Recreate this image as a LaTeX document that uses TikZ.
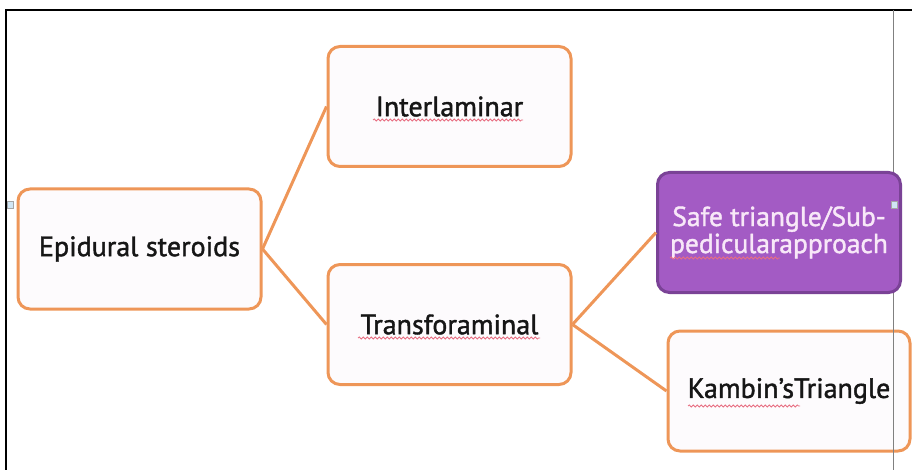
\documentclass[tikz,border=0pt]{standalone}
\usepackage{fontspec}
\setmainfont{PT Sans}
\newfontfamily\boxfont[FakeBold=1.4,Ligatures=TeX]{PT Sans}
\usetikzlibrary{decorations.pathmorphing}

\definecolor{boxorange}{RGB}{238,150,88}
\definecolor{boxfill}{RGB}{253,251,253}
\definecolor{boxpurple}{RGB}{163,91,196}
\definecolor{purpleedge}{RGB}{122,66,150}
\definecolor{textdark}{RGB}{22,22,22}
\definecolor{purpletext}{RGB}{248,232,248}
\definecolor{squiggle}{RGB}{232,110,130}
\definecolor{handleblue}{RGB}{208,230,245}

\tikzstyle{topic}=[draw=boxorange,fill=boxfill,line width=3pt,rounded corners=12pt,minimum width=243pt,minimum height=120pt,inner sep=0pt,text=textdark,font=\boxfont\fontsize{28}{30}\selectfont]
\tikzstyle{chosen}=[topic,draw=purpleedge,fill=boxpurple,text=purpletext,align=center,font=\boxfont\fontsize{27.5}{27}\selectfont]
\tikzstyle{branch}=[draw=boxorange,line width=3pt]
\tikzstyle{spell}=[draw=squiggle,line width=0.8pt,decorate,decoration={snake,amplitude=1pt,segment length=4pt}]
\tikzstyle{handle}=[draw=gray!70,fill=handleblue,rectangle,inner sep=0pt,minimum width=6pt,minimum height=7pt]

\begin{document}
\begin{tikzpicture}[x=1pt,y=-1pt]
\useasboundingbox (0,0) rectangle (912,470);

% window frame
\draw[black,line width=2.5pt] (912,10) -- (6,10) -- (6,470);

\node[topic] (epidural) at (139.5,249) {Epidural steroids};
\node[topic] (interlaminar) at (449.5,106.5) {Interlaminar};
\node[topic] (transforaminal) at (449.5,324.5) {Transforaminal};
\node[topic,minimum width=242pt] (kambin) at (789,391) {Kambin’sTriangle};

% ruler line of the page
\coordinate (rule-top) at (893,10);
\coordinate (rule-bottom) at (893,470);
\draw[gray,line width=1pt] (rule-top) -- (rule-bottom);

\node[chosen] (safe) at (779,232.5) {Safe triangle/Sub-\\pedicularapproach};

% edges from epidural to children
\draw[branch] (epidural.east) -- (interlaminar.west);
\draw[branch] (epidural.east) -- (transforaminal.west);

% edges from transforaminal to children
\draw[branch] (transforaminal.east) -- (safe.west);
\draw[branch] (transforaminal.east) -- (kambin.west);

% selection handles
\node[handle] (handle-left) at (10,205) {};
\node[handle] (handle-right) at (894,205) {};

% spell check marks
\draw[spell] (373,120) -- (523,120);
\draw[spell] (358,338) -- (540,338);
\draw[spell] (670,258) -- (780,258);
\draw[spell] (688,406) -- (800,406);

\end{tikzpicture}
\end{document}
